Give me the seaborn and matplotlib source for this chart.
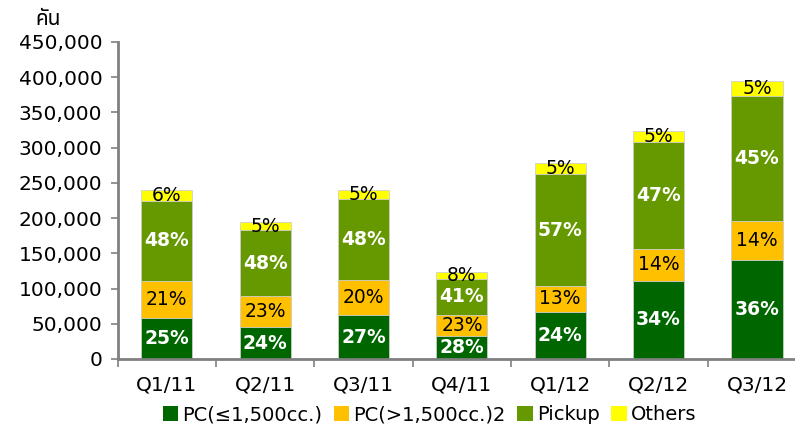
import numpy as np
import pandas as pd
import matplotlib
matplotlib.use("Agg")
import matplotlib.pyplot as plt
import seaborn as sns
from matplotlib import font_manager
from matplotlib.patches import Patch
from matplotlib.ticker import FuncFormatter, FixedLocator

quarters = ["Q1/11", "Q2/11", "Q3/11", "Q4/11", "Q1/12", "Q2/12", "Q3/12"]
pc_small = [58000, 45000, 62000, 33000, 67000, 111000, 140000]
pc_large = [53000, 44000, 50000, 29000, 37000, 45000, 56000]
pickup = [113000, 94000, 115000, 52000, 158000, 152000, 177000]
others = [16000, 11000, 13000, 10000, 16000, 16000, 21000]

lbl_pc_small = ["25%", "24%", "27%", "28%", "24%", "34%", "36%"]
lbl_pc_large = ["21%", "23%", "20%", "23%", "13%", "14%", "14%"]
lbl_pickup = ["48%", "48%", "48%", "41%", "57%", "47%", "45%"]
lbl_others = ["6%", "5%", "5%", "8%", "5%", "5%", "5%"]

series_names = ["PC(≤1,500cc.)", "PC(>1,500cc.)2", "Pickup", "Others"]
unit_label = "คัน"
colors = ["#006600", "#FFC000", "#669900", "#FFFF00"]
label_colors = ["white", "black", "white", "black"]
label_weights = ["bold", "normal", "bold", "normal"]

# pick an installed family that has Thai glyphs
installed = {f.name for f in font_manager.fontManager.ttflist}
thai_family = "Athiti"
for cand in ["Noto Sans Thai", "Noto Sans Thai Looped", "Sarabun", "Prompt", "Kanit", "Athiti"]:
    if cand in installed:
        thai_family = cand
        break

plt.rcParams["font.family"] = ["DejaVu Sans"]

series = [pc_small, pc_large, pickup, others]
labels = [lbl_pc_small, lbl_pc_large, lbl_pickup, lbl_others]
cum = np.cumsum(np.array(series, dtype=float), axis=0)

fig = plt.figure(figsize=(7.95, 4.32), dpi=100)
ax = fig.add_axes([0.148, 0.169, 0.866, 0.734])

# draw from tallest cumulative to shortest so segments stack visually
for i in reversed(range(4)):
    df = pd.DataFrame({"q": quarters, "v": cum[i]})
    sns.barplot(data=df, x="q", y="v", color=colors[i], width=0.52,
                edgecolor="#d0d0d0", linewidth=0.6, ax=ax, saturation=1)

for i in range(4):
    base = cum[i - 1] if i > 0 else np.zeros(len(quarters))
    for j in range(len(quarters)):
        mid = base[j] + series[i][j] / 2
        ax.text(j, mid, labels[i][j], ha="center", va="center",
                color=label_colors[i], fontweight=label_weights[i], fontsize=13.5)

ax.set_xlim(-0.5, 6.5)
ax.set_ylim(0, 450000)
ax.set_yticks(np.arange(0, 450001, 50000))
ax.yaxis.set_major_formatter(FuncFormatter(lambda v, p: f"{int(v):,}"))
ax.set_xlabel("")
ax.set_ylabel("")
ax.tick_params(axis="y", labelsize=14.5, length=5, color="#808080", width=1.2, pad=6)
ax.tick_params(axis="x", which="major", labelsize=14.5, length=0, pad=12)
ax.xaxis.set_minor_locator(FixedLocator(np.arange(-0.5, 7, 1.0)))
ax.tick_params(axis="x", which="minor", length=6, color="#808080", width=1.2)

for s in ["top", "right"]:
    ax.spines[s].set_visible(False)
for s in ["left", "bottom"]:
    ax.spines[s].set_color("#808080")
    ax.spines[s].set_linewidth(2)

fig.text(0.06, 0.955, unit_label, fontsize=15, ha="center", va="center",
         family=[thai_family, "DejaVu Sans"])

handles = [Patch(facecolor=c, edgecolor="none") for c in colors]
fig.legend(handles, series_names, loc="center", bbox_to_anchor=(0.54, 0.04),
           ncol=4, frameon=False, fontsize=14, handlelength=0.8, handleheight=0.8,
           handletextpad=0.2, columnspacing=0.6, borderaxespad=0)

fig.savefig("out.png", dpi=100)
